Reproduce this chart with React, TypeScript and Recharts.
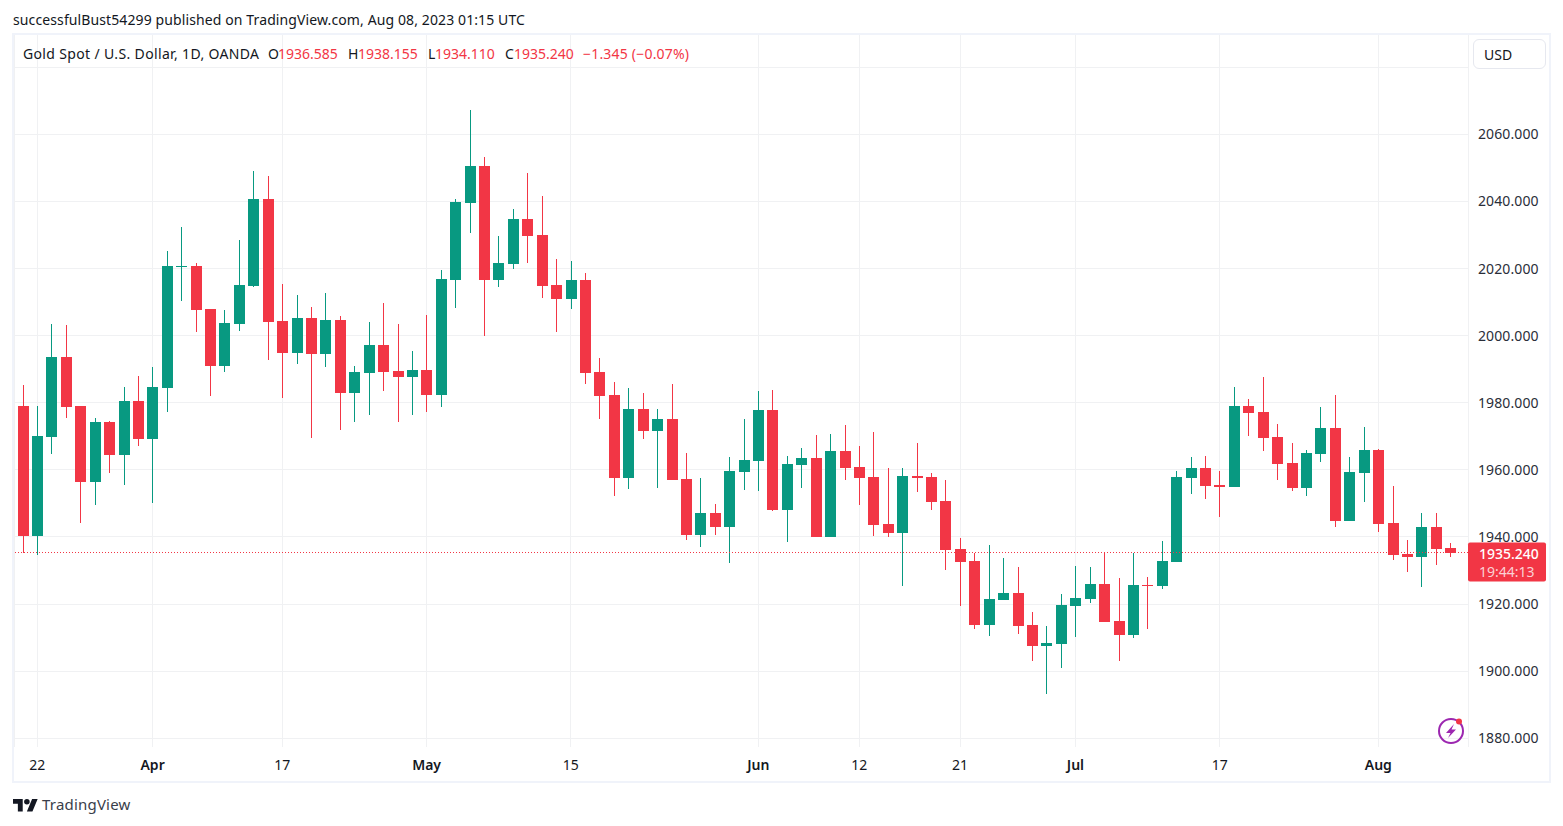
import { Bar, CartesianGrid, ComposedChart, ReferenceLine, XAxis, YAxis } from "recharts";

const UP = "#089981";
const DOWN = "#f23645";
const GRID = "#f0f1f3";
const TEXT = "#131722";
const FONT = "'Noto Sans', sans-serif";

const dates = [
  "Mar 21", "Mar 22", "Mar 23", "Mar 24", "Mar 27", "Mar 28", "Mar 29", "Mar 30", "Mar 31", "Apr 3",
  "Apr 4", "Apr 5", "Apr 6", "Apr 10", "Apr 11", "Apr 12", "Apr 13", "Apr 14", "Apr 17", "Apr 18",
  "Apr 19", "Apr 20", "Apr 21", "Apr 24", "Apr 25", "Apr 26", "Apr 27", "Apr 28", "May 1", "May 2",
  "May 3", "May 4", "May 5", "May 8", "May 9", "May 10", "May 11", "May 12", "May 15", "May 16",
  "May 17", "May 18", "May 19", "May 22", "May 23", "May 24", "May 25", "May 26", "May 29", "May 30",
  "May 31", "Jun 1", "Jun 2", "Jun 5", "Jun 6", "Jun 7", "Jun 8", "Jun 9", "Jun 12", "Jun 13",
  "Jun 14", "Jun 15", "Jun 16", "Jun 19", "Jun 20", "Jun 21", "Jun 22", "Jun 23", "Jun 26", "Jun 27",
  "Jun 28", "Jun 29", "Jun 30", "Jul 3", "Jul 4", "Jul 5", "Jul 6", "Jul 7", "Jul 10", "Jul 11",
  "Jul 12", "Jul 13", "Jul 14", "Jul 17", "Jul 18", "Jul 19", "Jul 20", "Jul 21", "Jul 24", "Jul 25",
  "Jul 26", "Jul 27", "Jul 28", "Jul 31", "Aug 1", "Aug 2", "Aug 3", "Aug 4", "Aug 7", "Aug 8",
];

const opens = [
  1979.0, 1940.3, 1969.8, 1993.6, 1979.0, 1956.4, 1974.3, 1964.4, 1980.5, 1969.2,
  1984.4, 2020.6, 2020.8, 2007.9, 1991.0, 2003.5, 2014.8, 2040.7, 2004.4, 1994.8,
  2005.3, 1994.5, 2004.7, 1982.9, 1988.9, 1997.2, 1989.5, 1987.7, 1989.8, 1982.3,
  2016.6, 2039.5, 2050.6, 2016.6, 2021.4, 2034.8, 2030.0, 2015.1, 2010.9, 2016.6,
  1989.2, 1982.3, 1957.6, 1978.1, 1971.6, 1975.2, 1957.3, 1940.6, 1947.1, 1943.0,
  1959.3, 1962.6, 1977.8, 1948.0, 1961.4, 1963.5, 1940.0, 1965.6, 1960.8, 1957.9,
  1943.8, 1941.2, 1958.2, 1957.9, 1950.7, 1936.4, 1932.8, 1913.7, 1921.2, 1923.3,
  1913.7, 1907.5, 1908.1, 1919.4, 1921.4, 1925.9, 1915.1, 1910.7, 1925.6, 1925.3,
  1932.4, 1957.5, 1960.7, 1955.4, 1954.8, 1978.9, 1977.1, 1969.7, 1961.9, 1954.5,
  1964.6, 1972.4, 1944.9, 1959.2, 1965.8, 1944.3, 1934.8, 1933.9, 1942.9, 1936.585,
];

const highs = [
  1985.3, 1979.0, 2003.5, 2003.2, 1979.0, 1975.5, 1974.6, 1984.7, 1988.0, 1990.7,
  2025.2, 2032.4, 2021.7, 2007.9, 2007.6, 2028.5, 2049.1, 2047.6, 2015.4, 2012.1,
  2008.5, 2012.7, 2005.9, 1991.0, 2004.1, 2009.7, 2003.5, 1995.4, 2006.2, 2019.6,
  2040.7, 2067.3, 2053.2, 2029.7, 2037.7, 2048.5, 2041.6, 2022.8, 2022.2, 2018.7,
  1993.3, 1986.2, 1984.4, 1982.9, 1978.1, 1985.6, 1965.0, 1957.6, 1949.8, 1963.8,
  1975.1, 1983.5, 1983.8, 1964.1, 1966.5, 1970.4, 1970.7, 1973.4, 1967.1, 1971.3,
  1960.5, 1960.5, 1968.0, 1959.0, 1957.0, 1939.7, 1935.2, 1937.6, 1933.7, 1931.0,
  1917.6, 1913.4, 1923.0, 1931.3, 1930.9, 1935.1, 1927.7, 1935.1, 1928.2, 1938.7,
  1959.8, 1963.7, 1964.0, 1959.8, 1984.6, 1981.0, 1987.6, 1973.8, 1967.9, 1965.8,
  1978.6, 1982.2, 1963.7, 1972.7, 1966.1, 1955.1, 1939.0, 1947.0, 1947.0, 1938.155,
];

const lows = [
  1935.3, 1934.7, 1964.7, 1975.5, 1944.2, 1949.5, 1959.1, 1955.5, 1967.1, 1950.1,
  1977.2, 2010.3, 2001.1, 1982.0, 1989.2, 2001.4, 2014.5, 1992.7, 1981.4, 1991.5,
  1969.5, 1990.7, 1971.9, 1974.3, 1976.3, 1983.5, 1974.3, 1976.3, 1977.2, 1978.7,
  2008.2, 2030.6, 1999.9, 2014.5, 2019.9, 2021.7, 2011.2, 2001.1, 2007.9, 1985.6,
  1975.2, 1952.2, 1954.3, 1969.2, 1954.6, 1957.0, 1939.1, 1937.0, 1940.6, 1932.2,
  1954.0, 1953.7, 1947.7, 1938.5, 1954.6, 1940.0, 1940.0, 1957.0, 1949.5, 1940.3,
  1940.0, 1925.4, 1953.4, 1948.0, 1930.1, 1919.4, 1912.6, 1910.5, 1921.2, 1911.1,
  1903.0, 1893.2, 1900.9, 1910.2, 1920.2, 1914.8, 1902.9, 1909.8, 1912.7, 1924.4,
  1932.4, 1952.7, 1951.2, 1945.8, 1954.8, 1970.0, 1965.5, 1956.9, 1953.6, 1952.1,
  1962.2, 1942.9, 1944.9, 1950.3, 1941.4, 1933.0, 1929.7, 1925.0, 1931.5, 1934.11,
];

const closes = [
  1940.3, 1970.1, 1993.6, 1978.7, 1956.4, 1974.3, 1964.4, 1980.5, 1969.2, 1984.7,
  2020.8, 2020.8, 2007.6, 1991.0, 2003.8, 2015.1, 2040.7, 2004.1, 1994.8, 2005.3,
  1994.5, 2004.7, 1982.9, 1989.2, 1997.2, 1989.2, 1987.7, 1989.8, 1982.3, 2016.9,
  2039.8, 2050.6, 2016.6, 2021.7, 2034.8, 2029.7, 2014.8, 2010.9, 2016.6, 1988.9,
  1982.0, 1957.6, 1978.1, 1971.6, 1975.2, 1957.0, 1940.6, 1947.1, 1943.0, 1959.7,
  1962.9, 1977.8, 1948.0, 1961.7, 1963.5, 1940.0, 1965.6, 1960.5, 1957.6, 1943.5,
  1941.2, 1958.2, 1957.6, 1950.4, 1936.1, 1932.5, 1913.7, 1921.5, 1923.3, 1913.4,
  1907.5, 1908.4, 1919.7, 1921.8, 1925.9, 1914.8, 1910.7, 1925.6, 1925.3, 1932.7,
  1957.8, 1960.7, 1955.1, 1954.8, 1978.9, 1976.8, 1969.4, 1961.6, 1954.5, 1964.9,
  1972.4, 1944.9, 1959.5, 1965.8, 1944.0, 1934.5, 1933.9, 1942.9, 1936.3, 1935.24,
];

const priceTicks = [1880, 1900, 1920, 1940, 1960, 1980, 2000, 2020, 2040, 2060, 2080];
const hiddenPriceTicks = [2080];
const timeTicks = ["Mar 22", "Apr 3", "Apr 17", "May 1", "May 15", "Jun 1", "Jun 12", "Jun 21", "Jul 3", "Jul 17", "Aug 1"];
const timeLabels = ["22", "Apr", "17", "May", "15", "Jun", "12", "21", "Jul", "17", "Aug"];
const monthTicks = ["Apr", "May", "Jun", "Jul", "Aug"];

const lastPrice = 1935.24;
const countdown = "19:44:13";

const legend = [
  { key: "O", value: "1936.585", left: 268, valueLeft: 278 },
  { key: "H", value: "1938.155", left: 348, valueLeft: 358 },
  { key: "L", value: "1934.110", left: 428, valueLeft: 435 },
  { key: "C", value: "1935.240", left: 505, valueLeft: 514 },
];

const data = dates.map((date, i) => ({
  date,
  open: opens[i],
  high: highs[i],
  low: lows[i],
  close: closes[i],
}));

function Candle(props: any) {
  const { x, y, width, height, payload } = props;
  const { open, high, low, close } = payload;
  const color = close >= open ? UP : DOWN;
  const perUnit = height / (high - low);
  // snap to whole pixels so bodies and wicks stay crisp like the original
  const left = Math.round(x);
  const wickTop = Math.round(y);
  const wickBottom = Math.round(y + height);
  const top = Math.round(y + (high - Math.max(open, close)) * perUnit);
  const bottom = Math.round(y + (high - Math.min(open, close)) * perUnit);
  return (
    <g shapeRendering="crispEdges">
      <rect x={left + 5} y={wickTop} width={1} height={wickBottom - wickTop} fill={color} />
      <rect x={left} y={top} width={width} height={Math.max(1, bottom - top)} fill={color} />
    </g>
  );
}

function TimeTick(props: any) {
  const { x, y, payload } = props;
  const label = timeLabels[timeTicks.indexOf(payload.value)];
  return (
    <text
      x={x}
      y={y + 15}
      textAnchor="middle"
      fontFamily={FONT}
      fontSize={14}
      fontWeight={monthTicks.includes(label) ? 600 : 400}
      fill={TEXT}
    >
      {label}
    </text>
  );
}

function PriceTick(props: any) {
  const { x, y, payload } = props;
  if (hiddenPriceTicks.includes(payload.value)) return null;
  return (
    <text x={x + 2} y={y + 5} textAnchor="start" fontFamily={FONT} fontSize={14} letterSpacing={0.1} fill="#2a2e39">
      {payload.value.toFixed(3)}
    </text>
  );
}

function PriceTag(props: any) {
  const { viewBox } = props;
  const left = viewBox.x + viewBox.width;
  const top = viewBox.y;
  return (
    <g fontFamily={FONT} fontSize={14} textAnchor="start">
      <rect x={left} y={top - 10.5} width={78} height={39} rx={2} fill={DOWN} />
      <text x={left + 11} y={top + 6} fill="#ffffff" fontWeight={500}>
        {lastPrice.toFixed(3)}
      </text>
      <text x={left + 11} y={top + 24} fill="#fbd0d4">
        {countdown}
      </text>
    </g>
  );
}

const headerStyle = { position: "absolute", fontFamily: FONT, fontSize: 14, whiteSpace: "pre", color: TEXT } as const;

export default function App() {
  return (
    <div style={{ position: "absolute", left: 0, top: 0, width: 1563, height: 826, background: "#fff", overflow: "hidden" }}>
      <div style={{ ...headerStyle, left: 13, top: 10, letterSpacing: 0.11 }}>
        successfulBust54299 published on TradingView.com, Aug 08, 2023 01:15 UTC
      </div>
      <div style={{ position: "absolute", left: 12, top: 33, width: 1539, height: 750, boxSizing: "border-box", border: "2px solid #f0f3fa" }} />
      <div style={{ position: "absolute", left: 0, top: 0 }}>
        <ComposedChart
          width={1563}
          height={826}
          data={data}
          margin={{ top: 35, right: 14, bottom: 44, left: 14 }}
        >
          <CartesianGrid stroke={GRID} strokeWidth={1} shapeRendering="crispEdges" horizontalValues={priceTicks} />
          <XAxis
            dataKey="date"
            ticks={timeTicks}
            interval={0}
            axisLine={false}
            tickLine={false}
            height={35}
            padding={{ left: 1.6, right: 10.4 }}
            tick={<TimeTick />}
          />
          <YAxis
            orientation="right"
            type="number"
            domain={[1877.4, 2089.6]}
            allowDataOverflow
            ticks={priceTicks}
            interval={0}
            axisLine={false}
            tickLine={false}
            width={81}
            tick={<PriceTick />}
          />
          <ReferenceLine
            y={lastPrice}
            stroke={DOWN}
            strokeWidth={1}
            strokeDasharray="1 2"
            shapeRendering="crispEdges"
            label={<PriceTag />}
          />
          <Bar
            dataKey={(d: any) => [d.low, d.high]}
            barSize={11}
            isAnimationActive={false}
            shape={<Candle />}
          />
        </ComposedChart>
      </div>
      <div style={{ ...headerStyle, left: 23, top: 44, letterSpacing: 0.35 }}>Gold Spot / U.S. Dollar, 1D, OANDA</div>
      {legend.map((item) => (
        <span key={item.key}>
          <span style={{ ...headerStyle, left: item.left, top: 44 }}>{item.key}</span>
          <span style={{ ...headerStyle, left: item.valueLeft, top: 44, color: DOWN }}>{item.value}</span>
        </span>
      ))}
      <div style={{ ...headerStyle, left: 583, top: 44, color: DOWN, letterSpacing: 0.2 }}>−1.345 (−0.07%)</div>
      <div style={{ position: "absolute", left: 1473, top: 39, width: 73, height: 30, boxSizing: "border-box", border: "1px solid #e6e8ef", borderRadius: 6, background: "#fff", fontFamily: FONT, fontSize: 14, color: TEXT, padding: "5px 10px" }}>
        USD
      </div>
      <svg style={{ position: "absolute", left: 1436, top: 716 }} width={30} height={30} viewBox="0 0 30 30">
        <circle cx={15} cy={15} r={12} fill="none" stroke="#9c27b0" strokeWidth={2} />
        <path d="M18 8 L10 17 L14.5 17 L12 22 L20 13.5 L15.5 13.5 Z" fill="#9c27b0" />
        <circle cx={23} cy={5.5} r={3} fill={DOWN} />
      </svg>
      <svg style={{ position: "absolute", left: 13, top: 796 }} width={25} height={17} viewBox="0 0 36 24">
        <path d="M14 22H7V11H0V4h14v18zM28 22h-8l7.5-18h8L28 22z" fill={TEXT} />
        <circle cx={20} cy={8} r={4} fill={TEXT} />
      </svg>
      <div style={{ ...headerStyle, left: 42, top: 794, fontSize: 15, letterSpacing: 0.2, color: "#3a3e4a" }}>TradingView</div>
    </div>
  );
}
